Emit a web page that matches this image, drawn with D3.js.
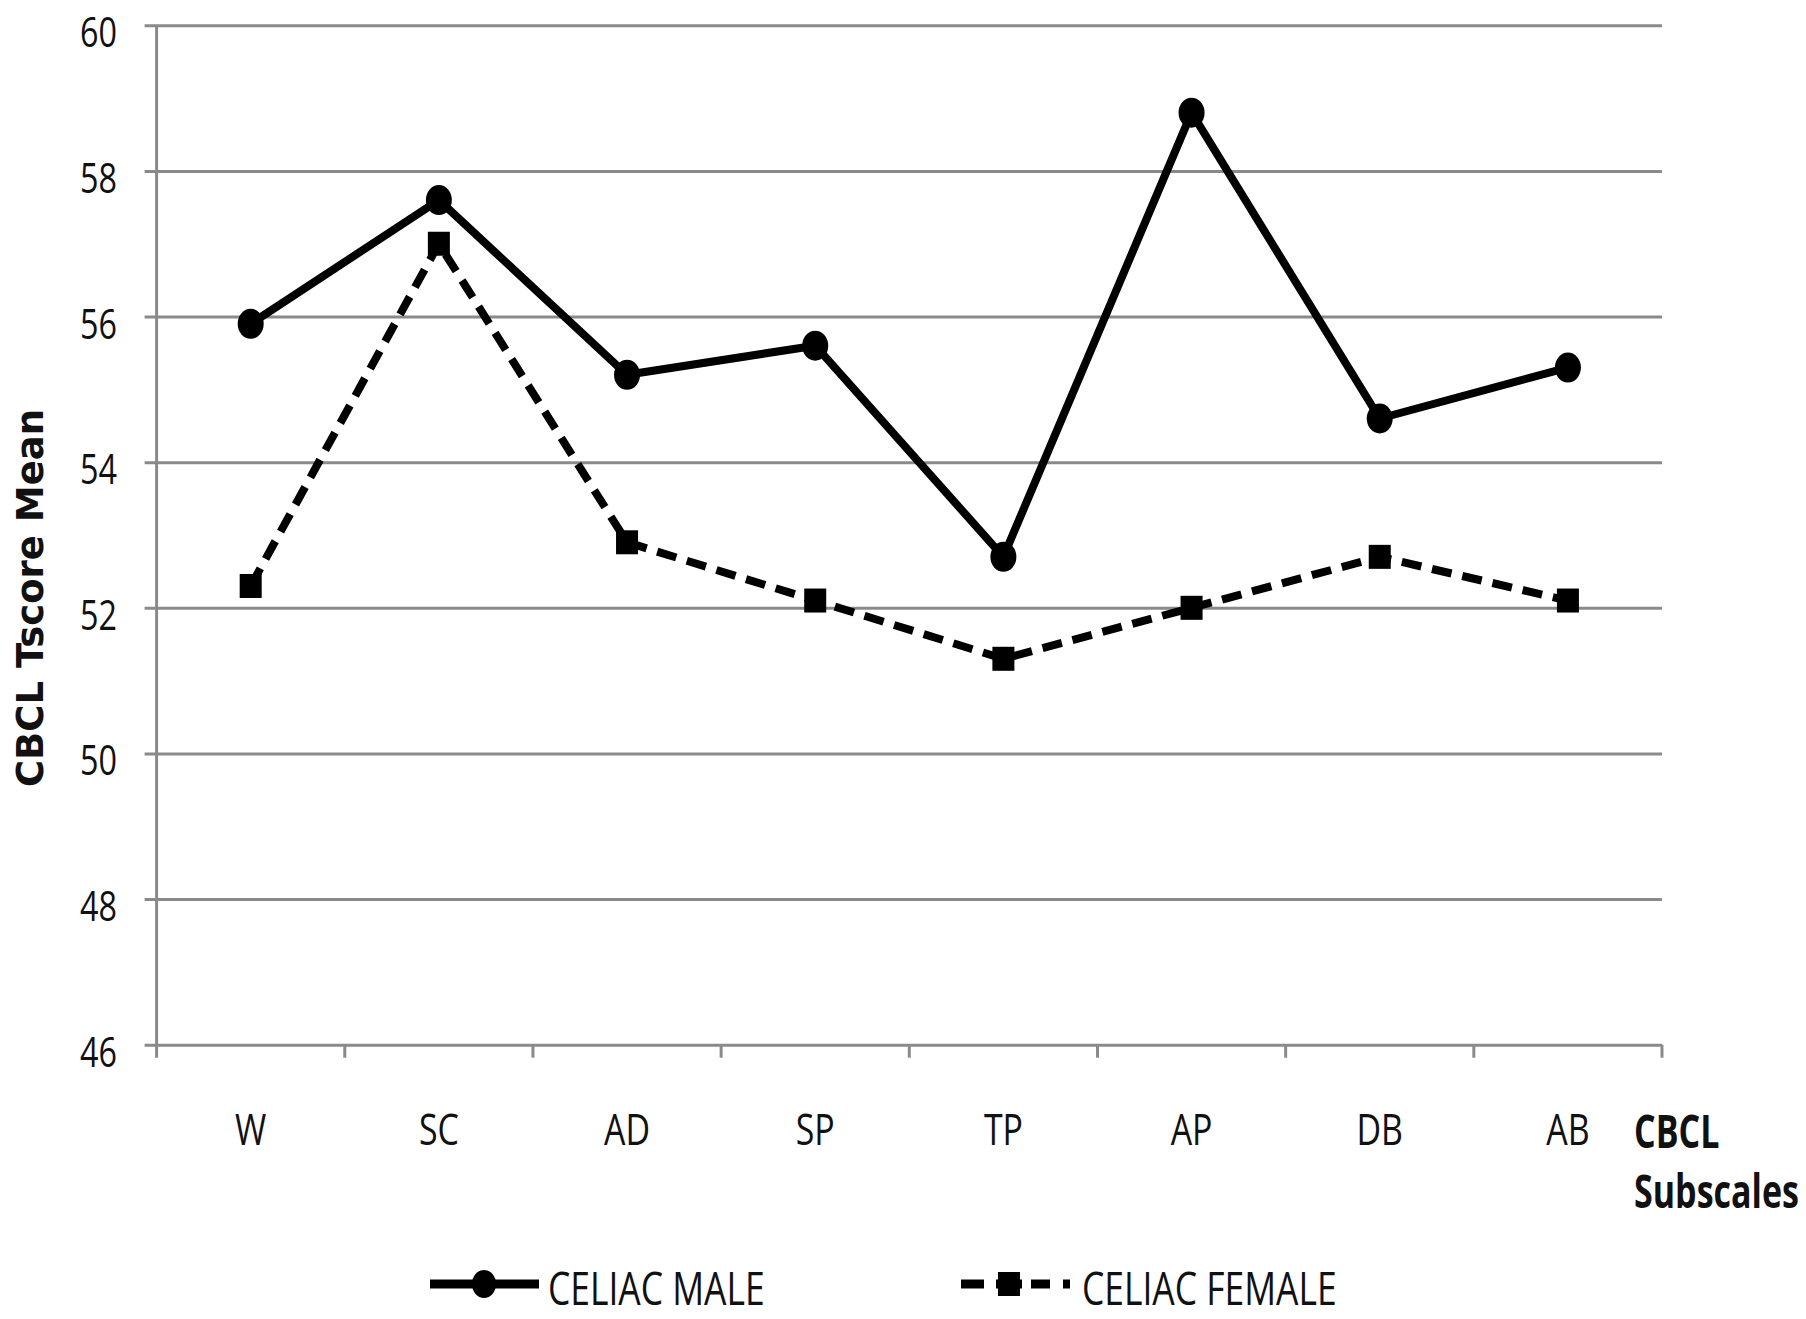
<!DOCTYPE html>
<html>
<head>
<meta charset="utf-8">
<script src="https://cdn.jsdelivr.net/npm/d3@7"></script>
<style>
  html, body { margin: 0; padding: 0; background: #fff; }
  svg { display: block; }
</style>
</head>
<body>
<svg id="chart" width="1806" height="1319"></svg>
<script>
const categories = ["W", "SC", "AD", "SP", "TP", "AP", "DB", "AB"];
const maleValues = [55.9, 57.6, 55.2, 55.6, 52.7, 58.8, 54.6, 55.3];
const femaleValues = [52.3, 57.0, 52.9, 52.1, 51.3, 52.0, 52.7, 52.1];
const yTicks = [46, 48, 50, 52, 54, 56, 58, 60];
const seriesNames = ["CELIAC MALE", "CELIAC FEMALE"];
const yTitle = "CBCL Tscore Mean";
const xTitle = ["CBCL", "Subscales"];

(function () {
const svg = d3.select("#chart");
const pL = 156.6, pR = 1662, pT = 25.3, pB = 1044.7;
const grid = "#8a8a8a";
const FONT = "'Open Sans', 'Liberation Sans', sans-serif";
const SX = 0.77;
const W = 500;

const x = d3.scaleBand().domain(categories).range([pL, pR]);
const y = d3.scaleLinear().domain([46, 60]).range([pB, pT]);
const cx = c => x(c) + x.bandwidth() / 2;

// gridlines (extend 12px left of axis as tick marks)
const gGrid = svg.append("g").attr("transform", `translate(${pL - 12},0)`)
  .call(d3.axisLeft(y).tickValues(yTicks).tickSize(-(pR - pL + 12)).tickFormat(""));
gGrid.select(".domain").remove();
gGrid.selectAll(".tick line").attr("stroke", grid).attr("stroke-width", 3);

// left axis line
svg.append("line").attr("x1", pL).attr("x2", pL).attr("y1", pT).attr("y2", pB + 13)
  .attr("stroke", grid).attr("stroke-width", 3);

// bottom tick marks at category boundaries
const bounds = categories.map(c => x(c)).concat([x.range()[1]]);
svg.append("g").selectAll("line").data(bounds.slice(1)).join("line")
  .attr("x1", d => d).attr("x2", d => d).attr("y1", pB).attr("y2", pB + 13)
  .attr("stroke", grid).attr("stroke-width", 3);

// y tick labels
svg.append("g").selectAll("text").data(yTicks).join("text")
  .attr("transform", d => `translate(117,${y(d) + 22}) scale(${SX},1)`)
  .attr("text-anchor", "end")
  .attr("font-family", FONT).attr("font-weight", W).attr("font-size", 42).attr("fill", "#111")
  .text(d => d);

// x category labels
svg.append("g").selectAll("text").data(categories).join("text")
  .attr("transform", d => `translate(${cx(d)},1145) scale(${SX},1)`)
  .attr("text-anchor", "middle")
  .attr("font-family", FONT).attr("font-weight", W).attr("font-size", 44).attr("fill", "#111")
  .text(d => d);

// axis titles
svg.append("text")
  .attr("transform", "translate(43,598) rotate(-90)")
  .attr("text-anchor", "middle")
  .attr("font-family", "'DejaVu Sans', sans-serif").attr("font-weight", "bold")
  .attr("font-size", 37).attr("fill", "#111")
  .text(yTitle);

svg.append("g").selectAll("text").data(xTitle).join("text")
  .attr("transform", (d, i) => `translate(1634,${1148 + i * 60}) scale(0.74,1)`)
  .attr("font-family", FONT).attr("font-weight", "bold")
  .attr("font-size", 46).attr("fill", "#111")
  .text(d => d);

// lines
const line = d3.line().x(d => cx(d.c)).y(d => y(d.v));
const maleData = categories.map((c, i) => ({ c, v: maleValues[i] }));
const femaleData = categories.map((c, i) => ({ c, v: femaleValues[i] }));

svg.append("path").datum(femaleData).attr("d", line)
  .attr("fill", "none").attr("stroke", "#000").attr("stroke-width", 8)
  .attr("stroke-dasharray", "20,11").attr("stroke-linejoin", "round");
svg.append("g").selectAll("rect").data(femaleData).join("rect")
  .attr("x", d => cx(d.c) - 11).attr("y", d => y(d.v) - 12)
  .attr("width", 22).attr("height", 24).attr("fill", "#000");

svg.append("path").datum(maleData).attr("d", line)
  .attr("fill", "none").attr("stroke", "#000").attr("stroke-width", 8)
  .attr("stroke-linejoin", "round");
svg.append("g").selectAll("ellipse").data(maleData).join("ellipse")
  .attr("cx", d => cx(d.c)).attr("cy", d => y(d.v))
  .attr("rx", 13).attr("ry", 15).attr("fill", "#000");

// legend
const ly = 1284;
svg.append("line").attr("x1", 430).attr("x2", 539).attr("y1", ly).attr("y2", ly)
  .attr("stroke", "#000").attr("stroke-width", 9);
svg.append("ellipse").attr("cx", 484).attr("cy", ly).attr("rx", 12).attr("ry", 14).attr("fill", "#000");
svg.append("text").attr("transform", `translate(548,1305) scale(${SX},1)`)
  .attr("font-family", FONT).attr("font-weight", W).attr("font-size", 46).attr("fill", "#111")
  .text(seriesNames[0]);

svg.append("line").attr("x1", 961).attr("x2", 1070).attr("y1", ly).attr("y2", ly)
  .attr("stroke", "#000").attr("stroke-width", 9).attr("stroke-dasharray", "23,12,26,9,19,13,8,30");
svg.append("rect").attr("x", 998).attr("y", ly - 12).attr("width", 22).attr("height", 24).attr("fill", "#000");
svg.append("text").attr("transform", `translate(1082,1305) scale(${SX},1)`)
  .attr("font-family", FONT).attr("font-weight", W).attr("font-size", 46).attr("fill", "#111")
  .text(seriesNames[1]);
})();
</script>
</body>
</html>
